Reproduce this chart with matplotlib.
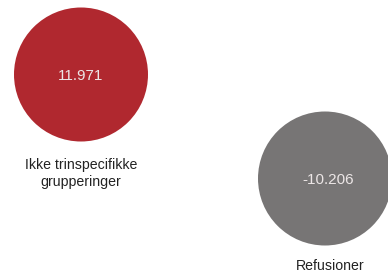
import matplotlib
matplotlib.use("Agg")
import matplotlib.pyplot as plt
from matplotlib.patches import Circle

# data
categories = ["Ikke trinspecifikke\ngrupperinger", "Refusioner"]
values = [11.971, -10.206]
colors = ["#b0282f", "#777575"]

# layout (pixel coords of the 388x275 canvas)
W, H = 388, 275
cx = [81, 325]
cy = [74.5, 178.5]
R = 67
text_dx = [0, 3]
label_dx = [0, 5]
label_dy = [99, 87]

def fmt(v):
    s = f"{abs(v):,.3f}".replace(",", "")
    return ("-" if v < 0 else "") + s

fig = plt.figure(figsize=(W / 100, H / 100), dpi=100)
ax = fig.add_axes([0, 0, 1, 1])
ax.set_xlim(0, W); ax.set_ylim(H, 0); ax.set_aspect("equal"); ax.axis("off")

for cat, v, c, x, y, tdx, ldx, dy in zip(categories, values, colors, cx, cy,
                                         text_dx, label_dx, label_dy):
    ax.add_patch(Circle((x, y), R, fc=c, ec="none"))
    ax.text(x + tdx, y + 1.5, fmt(v), ha="center", va="center", color="#ece6e6",
            fontsize=11, family="Liberation Sans")
    ax.text(x + ldx, y + dy, cat, ha="center", va="center", color="#222222",
            fontsize=10.2, family="Liberation Sans", linespacing=1.2)

fig.savefig("out.png", dpi=100)
